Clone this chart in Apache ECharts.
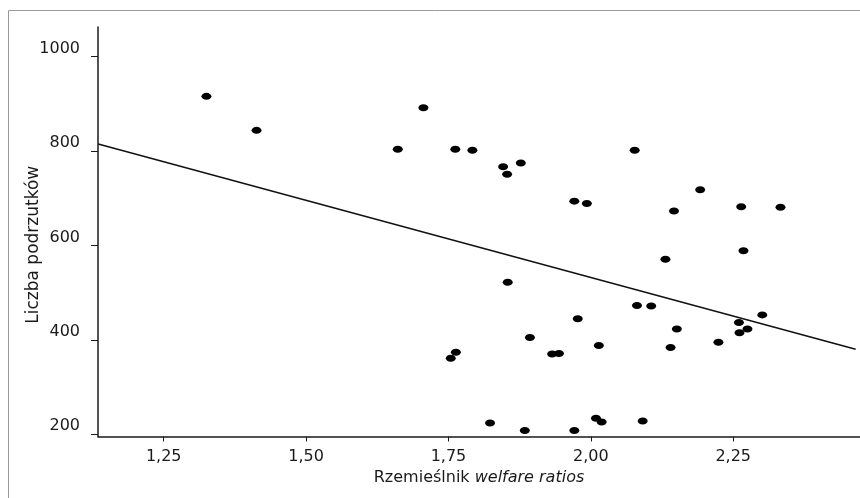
<!DOCTYPE html>
<html lang="pl">
<head>
<meta charset="utf-8">
<style>
  html, body { margin: 0; padding: 0; background: #fff; }
  #wykres { width: 860px; height: 498px; }
</style>
</head>
<body>
<div id="wykres"></div>
<script src="https://cdn.jsdelivr.net/npm/echarts@6/dist/echarts.min.js"></script>
<script>
// dane
var welfareRatios = [1.325, 1.413, 1.661, 1.706, 1.762, 1.792, 1.846, 1.853, 1.877, 1.971,
  1.993, 2.077, 2.146, 2.192, 2.264, 2.333, 2.131, 2.268, 1.854, 2.081,
  2.106, 1.977, 2.151, 2.301, 2.260, 2.275, 2.261, 1.893, 2.014, 2.140,
  2.224, 1.763, 1.754, 1.932, 1.944, 1.823, 1.884, 1.971, 2.009, 2.019, 2.091];
var podrzutki = [916, 844, 804, 892, 804, 802, 767, 751, 775, 694,
  689, 802, 673, 718, 682, 681, 571, 589, 522, 473,
  472, 445, 423, 453, 437, 423, 415, 405, 388, 384,
  395, 374, 361, 370, 371, 224, 208, 208, 234, 226, 228];

// linia regresji (koncowe punkty)
var trendX = [1.135, 2.465];
var trendY = [815, 380];

var xTicks = [1.25, 1.5, 1.75, 2.0, 2.25];
var yTicks = [200, 400, 600, 800, 1000];

var punkty = welfareRatios.map(function (x, i) { return [x, podrzutki[i]]; });
var trend = trendX.map(function (x, i) { return [x, trendY[i]]; });

var myChart = echarts.init(document.getElementById('wykres'));

var font = 'DejaVu Sans';

option = {
  animation: false,
  backgroundColor: '#fff',
  graphic: [{
    type: 'rect',
    silent: true,
    shape: { x: 8.5, y: 10.5, width: 900, height: 600 },
    style: { fill: 'none', stroke: '#9a9a9a', lineWidth: 1 }
  }],
  grid: { left: 98, right: 0, top: 27, bottom: 61.5 },
  xAxis: {
    type: 'value',
    min: 1.1346,
    max: 2.4726,
    splitLine: { show: false },
    axisLine: { onZero: false, lineStyle: { color: '#1a1a1a', width: 1.5 } },
    axisTick: { customValues: xTicks, length: 5, lineStyle: { color: '#1a1a1a' } },
    axisLabel: {
      customValues: xTicks,
      margin: 12,
      color: '#1a1a1a',
      fontFamily: font,
      fontSize: 16,
      formatter: function (v) { return v.toFixed(2).replace('.', ','); }
    },
    name: '{a|Rzemieślnik }{b|welfare ratios}',
    nameLocation: 'middle',
    nameGap: 33,
    nameMoveOverlap: false,
    nameTextStyle: {
      rich: {
        a: { fontFamily: font, fontSize: 16, color: '#1a1a1a' },
        b: { fontFamily: font, fontSize: 16, fontStyle: 'italic', color: '#1a1a1a' }
      }
    }
  },
  yAxis: {
    type: 'value',
    min: 195.3,
    max: 1063,
    splitLine: { show: false },
    axisLine: { show: true, onZero: false, lineStyle: { color: '#1a1a1a', width: 1.5 } },
    axisTick: { show: true, customValues: yTicks, length: 7, lineStyle: { color: '#1a1a1a' } },
    axisLabel: {
      customValues: yTicks,
      margin: 18,
      color: '#1a1a1a',
      fontFamily: font,
      fontSize: 16,
      verticalAlign: 'bottom',
      formatter: function (v) { return String(v); }
    },
    name: 'Liczba podrzutków',
    nameLocation: 'middle',
    nameGap: 56,
    nameMoveOverlap: false,
    nameTextStyle: {
      fontFamily: font,
      fontSize: 17,
      color: '#1a1a1a',
      padding: [0, 26, 0, 0]
    }
  },
  series: [{
    type: 'scatter',
    data: punkty,
    symbol: 'circle',
    symbolSize: [10, 7],
    itemStyle: { color: '#000', opacity: 1 }
  }, {
    type: 'line',
    data: trend,
    symbol: 'none',
    lineStyle: { color: '#111', width: 1.5 }
  }]
};

myChart.setOption(option);
</script>
</body>
</html>
